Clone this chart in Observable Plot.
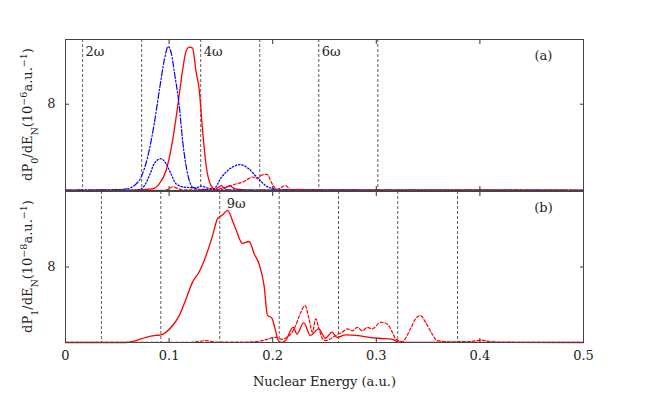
<!DOCTYPE html>
<html>
<head>
<meta charset="utf-8">
<script src="https://cdn.jsdelivr.net/npm/d3@7"></script>
<script src="https://cdn.jsdelivr.net/npm/@observablehq/plot@0.6"></script>
<style>
  body { margin: 0; background: #fff; }
  #chart { position: relative; width: 650px; height: 394px; background: #fff; }
  #chart svg { position: absolute; left: 0; }
</style>
</head>
<body>
<div id="chart"></div>
<script>
// ---------- data ----------
const xTicks = [0, 0.1, 0.2, 0.3, 0.4, 0.5];
const xInnerTicks = [0.1, 0.2, 0.3, 0.4];
const yTicks = [8];
const xLabel = "Nuclear Energy (a.u.)";

// harmonic positions (top panel n=2..7, bottom panel n=7..13)
const harmTop = [0.0165, 0.0735, 0.1305, 0.1875, 0.2445, 0.3015];
const harmTopLabels = ["2ω", "", "4ω", "", "6ω", ""];
const harmBot = [0.0347, 0.0920, 0.1489, 0.2063, 0.2635, 0.3207, 0.3784];
const harmBotLabels = ["", "", "9ω", "", "", "", ""];

// panel (a): dP0/dEN
const topRedSolid = [[0,0],[0.06,0.01],[0.0838,0.15],[0.0905,0.62],[0.0971,1.86],[0.1034,4.65],[0.1082,7.75],[0.1131,11.2],[0.1163,12.9],[0.1195,13.3],[0.1227,13.2],[0.1259,11.1],[0.1291,9.3],[0.1323,5.6],[0.1355,2.5],[0.1403,0.47],[0.1445,0.1],[0.1475,0.3],[0.1505,0.45],[0.1535,0.2],[0.158,0.45],[0.1625,0.2],[0.168,0.1],[0.18,0.03],[0.5,0.02]];
const topRedDashed = [[0,0.02],[0.095,0.02],[0.1,0.15],[0.1034,0.35],[0.108,0.2],[0.113,0.05],[0.125,0.05],[0.14,0.05],[0.155,0.3],[0.1644,0.6],[0.1715,0.8],[0.177,1.1],[0.1805,1.25],[0.185,1.1],[0.189,1.4],[0.1945,1.5],[0.199,0.7],[0.204,0.1],[0.2125,0.45],[0.2175,0.05],[0.225,0.1],[0.24,0.05],[0.5,0.03]];
const topBlueDashDot = [[0,0.03],[0.03,0.05],[0.05,0.08],[0.06,0.16],[0.0665,0.47],[0.0729,1.23],[0.0793,3.1],[0.0857,6.23],[0.0906,9.3],[0.0954,12.1],[0.099,13.35],[0.1022,12.7],[0.1052,10.9],[0.1099,7.75],[0.113,4.65],[0.1178,1.58],[0.1227,0.31],[0.13,0.1],[0.2,0.03],[0.5,0.02]];
const topBlueDotted = [[0,0.02],[0.066,0.03],[0.072,0.1],[0.0765,0.5],[0.0815,1.5],[0.0857,2.5],[0.0922,2.95],[0.097,2.5],[0.102,1.5],[0.107,0.6],[0.1156,0.3],[0.126,0.25],[0.131,0.4],[0.138,0.2],[0.143,0.15],[0.1503,1.2],[0.16,2.1],[0.1688,2.4],[0.177,2.0],[0.186,1.1],[0.196,0.3],[0.21,0.05],[0.5,0.02]];

// panel (b): dP1/dEN
const botRedSolid = [[0,0],[0.0585,0],[0.0681,0.2],[0.0777,0.55],[0.0874,0.75],[0.0922,0.8],[0.097,1.1],[0.1034,1.8],[0.1098,2.85],[0.1163,4.6],[0.1226,6.4],[0.1291,7.5],[0.1356,9.2],[0.1419,11.3],[0.1467,13.1],[0.1484,13.3],[0.1515,13.5],[0.1564,14.0],[0.1612,12.9],[0.1644,12.0],[0.1708,10.5],[0.1773,10.7],[0.1821,9.4],[0.1869,8.3],[0.1917,6.0],[0.1949,2.9],[0.1991,2.6],[0.2023,1.45],[0.2055,0.2],[0.2087,0],[0.2119,0.15],[0.2197,1.6],[0.2235,0.9],[0.2299,2.1],[0.2363,0.75],[0.2444,1.45],[0.2508,0.45],[0.2572,1.1],[0.262,0.55],[0.2705,0.8],[0.28,0.75],[0.2929,0.55],[0.3025,0.45],[0.3151,0.35],[0.3218,0.05],[0.34,0.02],[0.5,0]];
const botRedDashed = [[0,0.02],[0.12,0.02],[0.128,0.1],[0.1355,0.2],[0.145,0.05],[0.175,0.05],[0.19,0.2],[0.2029,0.55],[0.2087,0.35],[0.2174,0.9],[0.2222,1.8],[0.2271,3.2],[0.2312,3.9],[0.2351,2.5],[0.2383,1.1],[0.2415,2.5],[0.2447,1.45],[0.248,0.4],[0.2511,0.2],[0.256,0.4],[0.2608,0.75],[0.2672,1.1],[0.272,1.45],[0.2769,1.25],[0.2817,1.6],[0.2865,1.25],[0.2913,1.6],[0.2961,1.45],[0.3041,2.15],[0.3105,1.95],[0.3154,1.1],[0.3186,0.4],[0.325,0.1],[0.333,1.45],[0.3378,2.5],[0.3426,2.85],[0.3475,2.15],[0.3539,0.9],[0.3587,0.2],[0.37,0.08],[0.39,0.1],[0.4017,0.25],[0.41,0.08],[0.43,0.03],[0.5,0.02]];

// ---------- drawing ----------
const FONT = "'DejaVu Serif', serif";
const FS = 13;
const W = 650, ML = 65, MR = 67;
const RED = "#ff0000", BLUE = "#0000ff";
const px = d => d[0], py = d => d[1];

function lineMark(data, stroke, dash, sw) {
  return Plot.line(data, {x: px, y: py, stroke, strokeWidth: sw, strokeDasharray: dash, curve: "monotone-x"});
}

function commonAxes() {
  return [
    Plot.axisX({anchor: "top", ticks: xInnerTicks, tickSize: -4, tickFormat: () => "", label: null, stroke: "#333"}),
    Plot.axisX({anchor: "bottom", ticks: xInnerTicks, tickSize: -4, tickFormat: () => "", label: null, stroke: "#333"}),
    Plot.axisY({anchor: "left", ticks: yTicks, tickSize: -4, tickFormat: () => "", label: null, stroke: "#333"}),
    Plot.axisY({anchor: "right", ticks: yTicks, tickSize: -4, tickFormat: () => "", label: null, stroke: "#333"}),
    Plot.axisY({anchor: "left", ticks: yTicks, tickSize: 0, tickPadding: 10, label: null, fontSize: FS, fontFamily: FONT})
  ];
}

const txt = {fontSize: FS, fontFamily: FONT, fill: "#222"};

const topChart = Plot.plot({
  width: W, height: 191,
  marginTop: 39, marginBottom: 1, marginLeft: ML, marginRight: MR,
  style: {fontFamily: FONT, fontSize: FS + "px", background: "transparent", color: "#222"},
  x: {domain: [0, 0.5]},
  y: {domain: [0, 14]},
  marks: [
    Plot.ruleX(harmTop, {x: d => d, stroke: "#333", strokeWidth: 0.8, strokeDasharray: "3,2"}),
    lineMark(topRedSolid, RED, null, 1.3),
    lineMark(topBlueDotted, BLUE, "1.3,2", 1.3),
    lineMark(topBlueDashDot, BLUE, "6,2,1.5,2", 1.2),
    lineMark(topRedDashed, RED, "3,2", 1.2),
    Plot.text(harmTop, {x: d => d, text: (d, i) => harmTopLabels[i], frameAnchor: "top", dy: 12, dx: 3, textAnchor: "start", lineAnchor: "middle", ...txt}),
    Plot.text(["(a)"], {frameAnchor: "top-right", dx: -40, dy: 16, textAnchor: "middle", lineAnchor: "middle", ...txt}),
    ...commonAxes(),
    Plot.frame({stroke: "#444", strokeWidth: 1})
  ]
});

const botChart = Plot.plot({
  width: W, height: 204,
  marginTop: 1, marginBottom: 52, marginLeft: ML, marginRight: MR,
  style: {fontFamily: FONT, fontSize: FS + "px", background: "transparent", color: "#222"},
  x: {domain: [0, 0.5]},
  y: {domain: [0, 16]},
  marks: [
    Plot.ruleX(harmBot, {x: d => d, stroke: "#333", strokeWidth: 0.8, strokeDasharray: "3,2"}),
    lineMark(botRedSolid, RED, null, 1.3),
    lineMark(botRedDashed, RED, "3,2", 1.2),
    Plot.text(harmBot, {x: d => d, text: (d, i) => harmBotLabels[i], frameAnchor: "top", dy: 12, dx: 7, textAnchor: "start", lineAnchor: "middle", ...txt}),
    Plot.text(["(b)"], {frameAnchor: "top-right", dx: -40, dy: 16, textAnchor: "middle", lineAnchor: "middle", ...txt}),
    ...commonAxes(),
    Plot.axisX({anchor: "bottom", ticks: xTicks, tickSize: 0, tickPadding: 8, tickFormat: d => String(+d.toFixed(1)), label: null, fontSize: FS, fontFamily: FONT}),
    Plot.text([xLabel], {frameAnchor: "bottom", dy: 39, lineAnchor: "middle", ...txt}),
    Plot.frame({stroke: "#444", strokeWidth: 1})
  ]
});

const chart = document.getElementById("chart");
topChart.style.top = "0px";
botChart.style.top = "190px";
chart.appendChild(botChart);
chart.appendChild(topChart);

// rotated y-axis titles with sub/superscripts
function yTitle(svg, cy, idx, exp) {
  const t = d3.select(svg).append("text")
    .attr("transform", `translate(32,${cy}) rotate(-90)`)
    .attr("text-anchor", "middle")
    .style("font-family", FONT)
    .style("font-size", FS + "px")
    .attr("fill", "#222");
  const parts = [["dP", null], [idx, "sub"], ["/dE", null], ["N", "sub"], ["(10", null], [exp, "super"], ["a.u.", null], ["−1", "super"], [")", null]];
  for (const [s, shift] of parts) {
    const ts = t.append("tspan").text(s);
    if (shift) ts.attr("baseline-shift", shift).style("font-size", "9.5px");
  }
}
yTitle(topChart, 114.5, "0", "−6");
yTitle(botChart, 76.5, "1", "−8");
</script>
</body>
</html>
